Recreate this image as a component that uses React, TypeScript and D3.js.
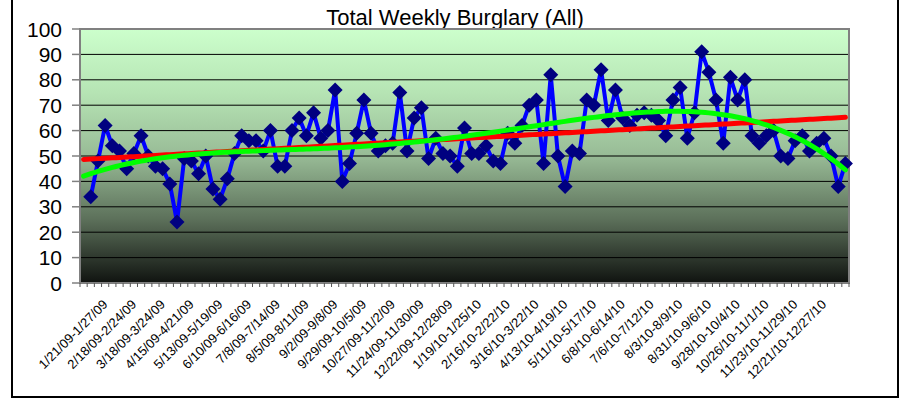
import React from 'react';
import * as d3 from 'd3';

// Weekly burglary counts; index 0 is an empty category
const values: (number | null)[] = [
  null,
  34, 48, 62, 54, 52, 45, 51, 58, 50, 46,
  45, 39, 24, 49, 48, 43, 50, 37, 33, 41,
  51, 58, 56, 56, 52, 60, 46, 46, 60, 65,
  58, 67, 57, 60, 76, 40, 47, 59, 72, 59,
  52, 54, 55, 75, 52, 65, 69, 49, 57, 51,
  50, 46, 61, 51, 51, 54, 48, 47, 59, 55,
  62, 70, 72, 47, 82, 50, 38, 52, 51, 72,
  70, 84, 64, 76, 65, 62, 66, 67, 66, 64,
  58, 72, 77, 57, 67, 91, 83, 72, 55, 81,
  72, 80, 58, 55, 58, 60, 50, 49, 56, 58,
  52, 55, 57, 50, 38, 47,
];

const tickLabels: string[] = [
  '1/21/09-1/27/09', '2/18/09-2/24/09', '3/18/09-3/24/09', '4/15/09-4/21/09',
  '5/13/09-5/19/09', '6/10/09-6/16/09', '7/8/09-7/14/09', '8/5/09-8/11/09',
  '9/2/09-9/8/09', '9/29/09-10/5/09', '10/27/09-11/2/09', '11/24/09-11/30/09',
  '12/22/09-12/28/09', '1/19/10-1/25/10', '2/16/10-2/22/10', '3/16/10-3/22/10',
  '4/13/10-4/19/10', '5/11/10-5/17/10', '6/8/10-6/14/10', '7/6/10-7/12/10',
  '8/3/10-8/9/10', '8/31/10-9/6/10', '9/28/10-10/4/10', '10/26/10-11/1/10',
  '11/23/10-11/29/10', '12/21/10-12/27/10',
];
const firstLabelIndex = 3;
const labelStep = 4;

const yTickValues: number[] = [0, 10, 20, 30, 40, 50, 60, 70, 80, 90, 100];
const title = 'Total Weekly Burglary (All)';

function solve(A: number[][], b: number[]): number[] {
  const n = b.length;
  const M = A.map((row, i) => [...row, b[i]]);
  for (let c = 0; c < n; c++) {
    let p = c;
    for (let r = c + 1; r < n; r++) if (Math.abs(M[r][c]) > Math.abs(M[p][c])) p = r;
    [M[c], M[p]] = [M[p], M[c]];
    for (let r = 0; r < n; r++) {
      if (r === c) continue;
      const f = M[r][c] / M[c][c];
      for (let k = c; k <= n; k++) M[r][k] -= f * M[c][k];
    }
  }
  return M.map((row, i) => row[n] / row[i]);
}

function polyFit(xs: number[], ys: number[], order: number, scale: number) {
  const n = order + 1;
  const A = Array.from({ length: n }, () => new Array(n).fill(0));
  const b = new Array(n).fill(0);
  xs.forEach((xv, k) => {
    const t = xv / scale;
    for (let i = 0; i < n; i++) {
      b[i] += Math.pow(t, i) * ys[k];
      for (let j = 0; j < n; j++) A[i][j] += Math.pow(t, i + j);
    }
  });
  const c = solve(A, b);
  return (xv: number) => c.reduce((s, ci, i) => s + ci * Math.pow(xv / scale, i), 0);
}

export default function App() {
  const W = 909;
  const H = 400;
  const L = 80, R = 849, T = 29, B = 283;
  const n = values.length;
  const x = d3.scaleLinear().domain([-0.5, n - 0.5]).range([L, R]);
  const y = d3.scaleLinear().domain([0, 100]).range([B, T]);
  const font = '"Liberation Sans", Arial, sans-serif';

  const pts: [number, number][] = [];
  values.forEach((v, i) => { if (v != null) pts.push([i, v]); });
  const line = d3.line<[number, number]>().x(d => x(d[0])).y(d => y(d[1]));

  const xs = pts.map(p => p[0]);
  const ys = pts.map(p => p[1]);
  const lin = polyFit(xs, ys, 1, n - 1);
  const poly = polyFit(xs, ys, 4, n - 1);
  const trendX = d3.range(0, n - 1 + 0.001, 0.5);
  const linPath = line(trendX.map(t => [t, lin(t)] as [number, number]));
  const polyPath = line(trendX.map(t => [t, poly(t)] as [number, number]));

  const diamond = 'M0,-7.5L7.5,0L0,7.5L-7.5,0Z';

  return (
    <svg width={W} height={H} style={{ position: 'absolute', left: 0, top: 0, background: '#fff' }}>
      <defs>
        <linearGradient id="bg" x1="0" y1="0" x2="0" y2="1">
          <stop offset="0" stopColor="#CCFFCC" />
          <stop offset="0.25" stopColor="#B6E4B4" />
          <stop offset="0.5" stopColor="#98BB96" />
          <stop offset="0.75" stopColor="#5C705A" />
          <stop offset="1" stopColor="#101310" />
        </linearGradient>
      </defs>
      <rect x={12} y={-10} width={886} height={407} fill="#fff" stroke="#000" strokeWidth={2} />
      <text x={455} y={25} textAnchor="middle" fontFamily={font} fontSize={22} fill="#000">{title}</text>

      <rect x={L} y={T} width={R - L} height={B - T} fill="url(#bg)" />
      {yTickValues.filter(v => v > 0 && v < 100).map(v => (
        <line key={'g' + v} x1={L} x2={R} y1={y(v)} y2={y(v)} stroke="#000" strokeWidth={1} />
      ))}
      <rect x={L} y={T} width={R - L} height={B - T} fill="none" stroke="#808080" strokeWidth={2} />

      {yTickValues.map(v => (
        <g key={'y' + v}>
          <line x1={72} x2={L} y1={y(v)} y2={y(v)} stroke="#808080" strokeWidth={1.5} />
          <text x={62} y={y(v)} dy="0.36em" textAnchor="end" fontFamily={font} fontSize={21} fill="#000">{v}</text>
        </g>
      ))}

      {d3.range(0, n + 1).map(i => (
        <line key={'t' + i} x1={x(i - 0.5)} x2={x(i - 0.5)} y1={B} y2={B + 4} stroke="#555" strokeWidth={1} />
      ))}
      {tickLabels.map((lab, k) => {
        const cx = x(firstLabelIndex + k * labelStep);
        return (
          <text key={'l' + k} transform={`translate(${cx},302) rotate(-45)`} textAnchor="end" dy="0.35em"
            fontFamily={font} fontSize={13} fill="#000">{lab}</text>
        );
      })}

      <path d={line(pts) || ''} fill="none" stroke="#0000FF" strokeWidth={4} strokeLinejoin="round" />
      {pts.map(p => (
        <path key={'m' + p[0]} d={diamond} transform={`translate(${x(p[0])},${y(p[1])})`} fill="#000080" />
      ))}
      <path d={linPath || ''} fill="none" stroke="#FF0000" strokeWidth={5} strokeLinecap="round" />
      <path d={polyPath || ''} fill="none" stroke="#00FF00" strokeWidth={5} strokeLinecap="round" />
    </svg>
  );
}
